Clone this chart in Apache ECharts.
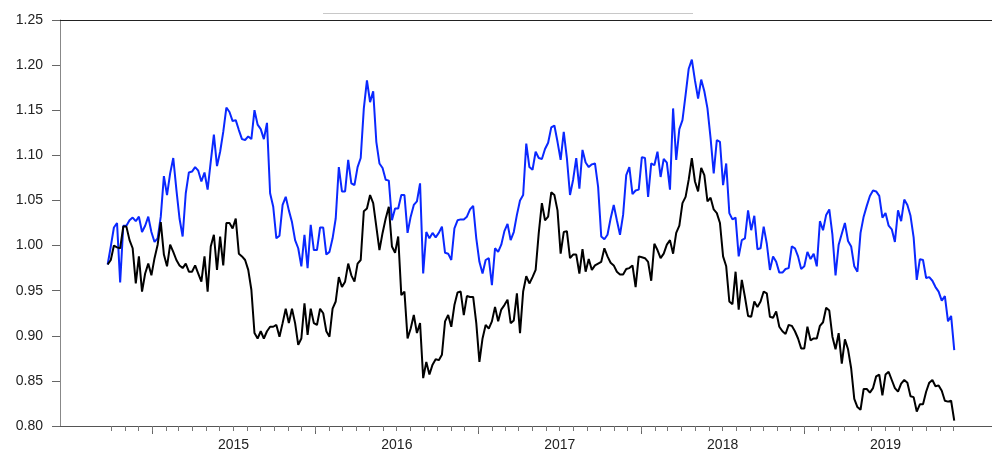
<!DOCTYPE html>
<html>
<head>
<meta charset="utf-8">
<script src="https://cdn.jsdelivr.net/npm/echarts@6/dist/echarts.min.js"></script>
<style>
html,body{margin:0;padding:0;background:#fff;}
#chart{width:992px;height:453px;}
</style>
</head>
<body>
<div id="chart"></div>
<script>
// ---- data (weekly observations) ----
const startDate = '2014-09-23';
const stepDays = 7;

const blueValues = [
0.979,0.999,1.020,1.025,0.959,1.022,1.022,1.028,1.031,1.027,
1.032,1.015,1.022,1.032,1.015,1.004,1.008,1.032,1.077,1.056,
1.080,1.097,1.062,1.030,1.010,1.058,1.081,1.082,1.087,1.083,
1.071,1.081,1.062,1.093,1.123,1.088,1.104,1.126,1.153,1.148,
1.138,1.139,1.128,1.118,1.117,1.121,1.118,1.150,1.134,1.129,
1.118,1.136,1.058,1.043,1.008,1.011,1.045,1.054,1.039,1.026,
1.006,0.997,0.977,1.012,0.975,1.023,0.995,0.995,1.020,1.020,
0.990,0.993,1.008,1.030,1.087,1.060,1.060,1.095,1.069,1.067,
1.087,1.097,1.152,1.183,1.159,1.171,1.115,1.091,1.086,1.073,
1.072,1.028,1.041,1.041,1.056,1.056,1.014,1.032,1.045,1.049,
1.069,0.969,1.015,1.008,1.014,1.009,1.014,1.021,0.992,0.991,
0.984,1.019,1.028,1.029,1.029,1.032,1.040,1.044,1.008,0.982,
0.969,0.984,0.986,0.956,0.997,0.993,1.001,1.016,1.024,1.006,
1.015,1.034,1.050,1.056,1.113,1.087,1.084,1.104,1.097,1.096,
1.107,1.114,1.131,1.133,1.115,1.095,1.126,1.097,1.056,1.073,
1.097,1.063,1.106,1.092,1.087,1.090,1.091,1.065,1.010,1.007,
1.012,1.030,1.045,1.028,1.012,1.034,1.078,1.087,1.057,1.061,
1.062,1.098,1.097,1.054,1.091,1.089,1.104,1.076,1.096,1.092,
1.062,1.152,1.095,1.129,1.139,1.167,1.196,1.206,1.183,1.163,
1.184,1.171,1.152,1.119,1.080,1.117,1.115,1.067,1.091,1.036,
1.029,1.031,0.988,1.006,1.008,1.039,1.017,1.033,0.996,0.997,
1.021,1.002,0.973,0.988,0.982,0.970,0.970,0.974,0.975,0.999,
0.997,0.988,0.974,0.977,0.993,0.985,0.991,0.977,1.027,1.017,
1.034,1.040,1.012,0.967,1.001,1.013,1.025,1.005,0.999,0.977,
0.971,1.014,1.032,1.044,1.055,1.061,1.060,1.055,1.031,1.036,
1.022,1.018,1.004,1.039,1.027,1.051,1.045,1.033,1.009,0.962,
0.985,0.984,0.964,0.965,0.961,0.954,0.949,0.939,0.944,0.916,
0.922,0.884
];

const blackValues = [
0.979,0.984,1.000,0.998,0.997,1.021,1.021,1.006,0.997,0.958,
0.988,0.949,0.969,0.980,0.967,0.986,1.001,1.026,0.990,0.977,
1.001,0.993,0.984,0.978,0.975,0.980,0.971,0.971,0.978,0.969,
0.960,0.988,0.949,0.999,1.012,0.973,1.010,0.978,1.025,1.025,
1.019,1.030,0.991,0.988,0.984,0.973,0.951,0.903,0.897,0.905,
0.897,0.905,0.910,0.910,0.912,0.899,0.914,0.930,0.914,0.930,
0.914,0.890,0.897,0.936,0.901,0.930,0.914,0.912,0.930,0.925,
0.905,0.899,0.930,0.938,0.965,0.954,0.960,0.980,0.967,0.960,
0.980,0.984,1.038,1.041,1.056,1.047,1.021,0.995,1.014,1.030,
1.043,0.999,0.992,1.010,0.945,0.949,0.897,0.908,0.923,0.903,
0.914,0.853,0.871,0.857,0.868,0.874,0.873,0.879,0.916,0.923,
0.910,0.934,0.948,0.949,0.923,0.944,0.943,0.943,0.914,0.871,
0.897,0.912,0.908,0.916,0.932,0.916,0.929,0.934,0.940,0.914,
0.917,0.947,0.903,0.949,0.966,0.958,0.965,0.973,1.014,1.047,
1.028,1.032,1.059,1.056,1.039,0.991,1.015,1.016,0.986,0.990,
0.990,0.969,0.996,0.971,0.985,0.973,0.978,0.980,0.982,0.997,
0.988,0.981,0.978,0.971,0.968,0.968,0.974,0.975,0.978,0.954,
0.988,0.987,0.986,0.982,0.961,1.002,0.995,0.986,0.991,1.001,
1.006,0.991,1.014,1.022,1.047,1.054,1.073,1.097,1.071,1.060,
1.086,1.078,1.049,1.053,1.040,1.036,1.025,0.988,0.977,0.938,
0.935,0.971,0.929,0.962,0.943,0.922,0.921,0.938,0.932,0.938,
0.949,0.947,0.921,0.920,0.927,0.910,0.905,0.902,0.912,0.911,
0.905,0.897,0.886,0.886,0.910,0.895,0.897,0.897,0.911,0.915,
0.931,0.928,0.899,0.885,0.903,0.869,0.896,0.885,0.864,0.830,
0.821,0.818,0.841,0.841,0.837,0.842,0.855,0.857,0.834,0.857,
0.860,0.851,0.842,0.838,0.847,0.851,0.848,0.833,0.832,0.816,
0.824,0.824,0.838,0.848,0.851,0.844,0.845,0.839,0.828,0.827,
0.828,0.806
];

const yearLabels = ['2015', '2016', '2017', '2018', '2019'];
const yTicks = { min: 0.80, max: 1.25, interval: 0.05 };

// ---- helpers ----
const DAY = 86400000;
const origin = Date.UTC(2014, 0, 1);
function dayOf(y, m, d) { return (Date.UTC(y, m, d) - origin) / DAY; }
const sd = startDate.split('-').map(Number);
const startDay = dayOf(sd[0], sd[1] - 1, sd[2]);

function toSeries(values) {
  return values.map((v, i) => [startDay + i * stepDays, v]);
}

const yearStarts = yearLabels.map(y => dayOf(+y, 0, 1));
const yearMids = yearLabels.map(y => dayOf(+y, 6, 2));
const lastDay = startDay + (blueValues.length - 1) * stepDays;
const monthTicks = [];
for (let y = 2014; y <= 2019; y++) {
  for (let m = 0; m < 12; m++) {
    const d = dayOf(y, m, 1);
    if (d >= startDay && d <= lastDay) monthTicks.push(d);
  }
}

const xMin = 158.2, xMax = 2246.6;

const chart = echarts.init(document.getElementById('chart'), null, { renderer: 'canvas' });
const font = 'Liberation Sans, Arial, Helvetica, sans-serif';

chart.setOption({
  animation: false,
  backgroundColor: '#fff',
  grid: { left: 60, right: 0, top: 20, bottom: 27, containLabel: false },
  graphic: [{
    type: 'line',
    shape: { x1: 323, y1: 13.5, x2: 693, y2: 13.5 },
    style: { stroke: '#c8c8c8', lineWidth: 1 }
  }],
  xAxis: [
    {
      type: 'value', min: xMin, max: xMax, position: 'bottom',
      axisLine: { show: true, lineStyle: { color: '#555', width: 1 } },
      axisTick: { show: true, length: 8, customValues: yearStarts, lineStyle: { color: '#666' } },
      axisLabel: {
        show: true, customValues: yearMids, margin: 12,
        color: '#222', fontSize: 14, fontFamily: font,
        formatter: v => {
          const i = yearMids.findIndex(m => Math.abs(m - v) < 1);
          return i >= 0 ? yearLabels[i] : '';
        }
      },
      splitLine: { show: false }
    },
    {
      type: 'value', min: xMin, max: xMax, position: 'bottom',
      axisLine: { show: false },
      axisTick: { show: true, length: 5, customValues: monthTicks, lineStyle: { color: '#777' } },
      axisLabel: { show: false },
      splitLine: { show: false }
    },
    {
      type: 'value', min: xMin, max: xMax, position: 'top',
      axisLine: { show: true, lineStyle: { color: '#222', width: 1 } },
      axisTick: { show: false },
      axisLabel: { show: false },
      splitLine: { show: false }
    }
  ],
  yAxis: {
    type: 'value', min: yTicks.min, max: yTicks.max, interval: yTicks.interval,
    axisLine: { show: true, lineStyle: { color: '#888', width: 1 } },
    axisTick: { show: true, length: 8, lineStyle: { color: '#666' } },
    axisLabel: {
      margin: 17, color: '#222', fontSize: 14, fontFamily: font,
      formatter: v => v.toFixed(2)
    },
    splitLine: { show: false }
  },
  series: [
    {
      type: 'line', xAxisIndex: 0, data: toSeries(blueValues),
      showSymbol: false, symbol: 'none',
      lineStyle: { color: '#0a28ff', width: 2 }
    },
    {
      type: 'line', xAxisIndex: 0, data: toSeries(blackValues),
      showSymbol: false, symbol: 'none',
      lineStyle: { color: '#000', width: 2 }
    }
  ]
});
</script>
</body>
</html>
